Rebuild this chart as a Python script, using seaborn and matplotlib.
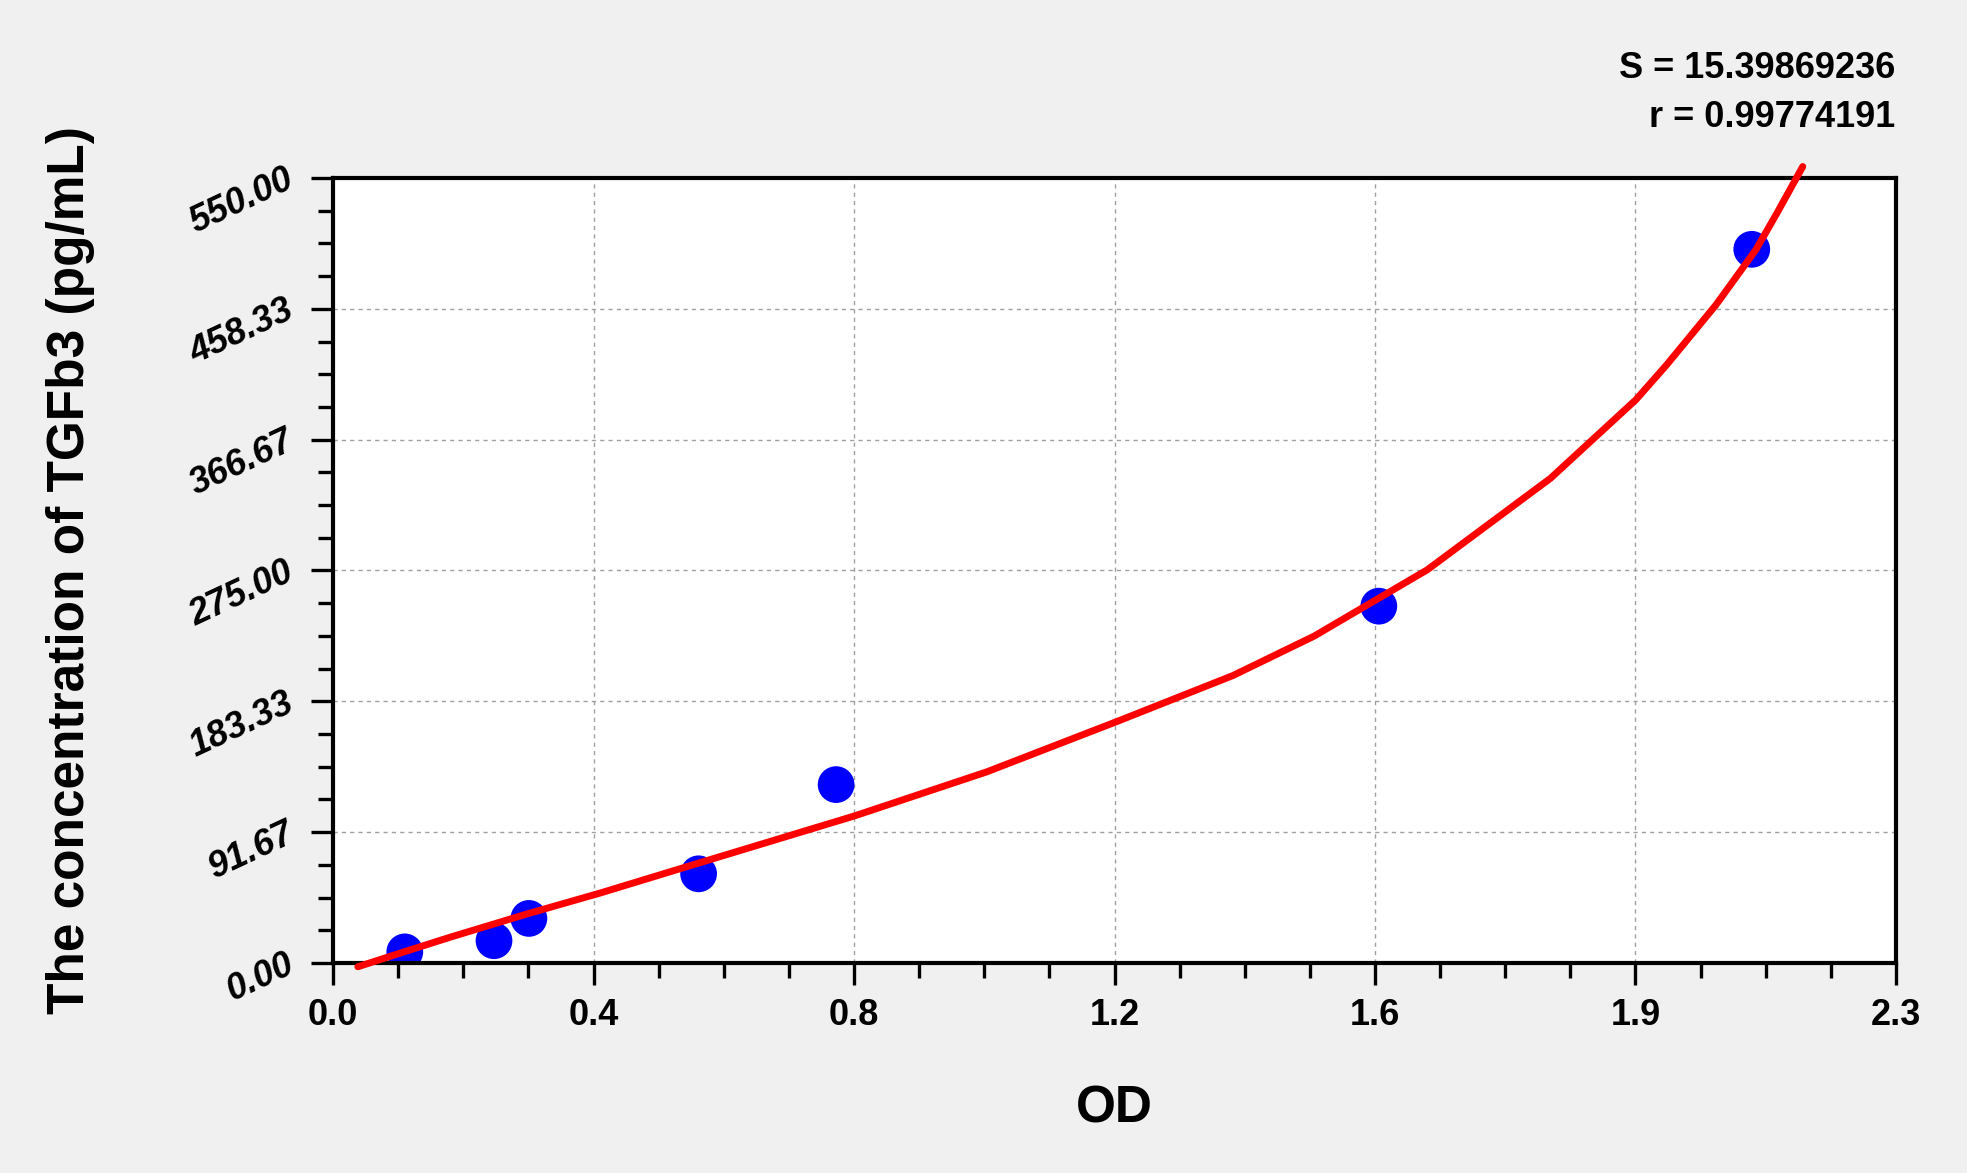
import numpy as np
import pandas as pd
import seaborn as sns
import matplotlib.pyplot as plt
from matplotlib.ticker import AutoMinorLocator

# Standard points
od = [0.107, 0.240, 0.292, 0.545, 0.750, 1.559, 2.115]
conc = [7.81, 15.63, 31.25, 62.5, 125.0, 250.0, 500.0]

# Fitted curve
curve_od = [0.037, 0.107, 0.174, 0.29, 0.398, 0.547, 0.777, 0.975, 1.173, 1.342,
            1.4625, 1.631, 1.815, 1.942, 1.988, 2.0615, 2.121, 2.1525, 2.191]
curve_conc = [-2.6, 8.0, 18.0, 34.5, 49.0, 70.3, 103.0, 134.0, 170.0, 201.5,
              229.0, 275.4, 339.6, 394.5, 419.0, 461.0, 499.6, 525.3, 558.0]

xtick_labels = ['0.0', '0.4', '0.8', '1.2', '1.6', '1.9', '2.3']
ytick_labels = ['0.00', '91.67', '183.33', '275.00', '366.67', '458.33', '550.00']
stats_text = ['S = 15.39869236', 'r = 0.99774191']

xmax = 2.33
ymax = 550.0

sns.set_style('white')
plt.rcParams['font.family'] = ['Liberation Sans', 'DejaVu Sans']
plt.rcParams['text.color'] = 'black'
plt.rcParams['axes.labelcolor'] = 'black'
plt.rcParams['xtick.color'] = 'black'
plt.rcParams['ytick.color'] = 'black'

dfPts = pd.DataFrame({'OD': od, 'conc': conc})
dfCurve = pd.DataFrame({'OD': curve_od, 'conc': curve_conc})

fig = plt.figure(figsize=(19.67, 11.73), dpi=100, facecolor='#f0f0f0')
ax = fig.add_axes([0.1693, 0.179, 0.7946, 0.6693])
ax.set_facecolor('white')

sns.lineplot(x='OD', y='conc', data=dfCurve, color='#ff0000', lw=5, ax=ax, zorder=3,
             clip_on=False, estimator=None)
sns.scatterplot(x='OD', y='conc', data=dfPts, color='#0000ff', s=700, edgecolor='none',
                ax=ax, zorder=2)

ax.set_xlim(0, xmax)
ax.set_ylim(0, ymax)
ax.set_xticks(np.linspace(0, xmax, len(xtick_labels)))
ax.set_xticklabels(xtick_labels, fontsize=26, fontweight='bold')
ax.set_yticks(np.linspace(0, ymax, len(ytick_labels)))
ax.set_yticklabels(ytick_labels, fontsize=26, fontweight='bold', fontstyle='italic',
                   rotation=25, ha='right', va='center', rotation_mode='anchor')
ax.xaxis.set_minor_locator(AutoMinorLocator(4))
ax.yaxis.set_minor_locator(AutoMinorLocator(4))
ax.tick_params(which='both', bottom=True, left=True, top=False, right=False, direction='out')
ax.tick_params(which='major', length=15.5, width=2.4, color='black')
ax.tick_params(which='minor', length=10.5, width=2.4, color='black')
ax.tick_params(axis='x', which='major', pad=10)
ax.tick_params(axis='y', which='major', pad=14)
ax.grid(True, which='major', color='#a0a0a0', ls=(0, (3, 3)), lw=1.0)
for sp in ax.spines.values():
    sp.set_linewidth(3.0)
    sp.set_color('black')

ax.set_xlabel('OD', fontsize=37, fontweight='bold')
ax.xaxis.set_label_coords(0.5, -0.155)
ax.set_ylabel('The concentration of TGFb3 (pg/mL)', fontsize=37, fontweight='bold')
ax.yaxis.set_label_coords(-0.152, 0.5)

fig.text(0.9634, 0.9335, stats_text[0], fontsize=26, fontweight='bold', ha='right', va='baseline')
fig.text(0.9634, 0.8917, stats_text[1], fontsize=26, fontweight='bold', ha='right', va='baseline')

fig.savefig('out.png', dpi=100, facecolor=fig.get_facecolor())
